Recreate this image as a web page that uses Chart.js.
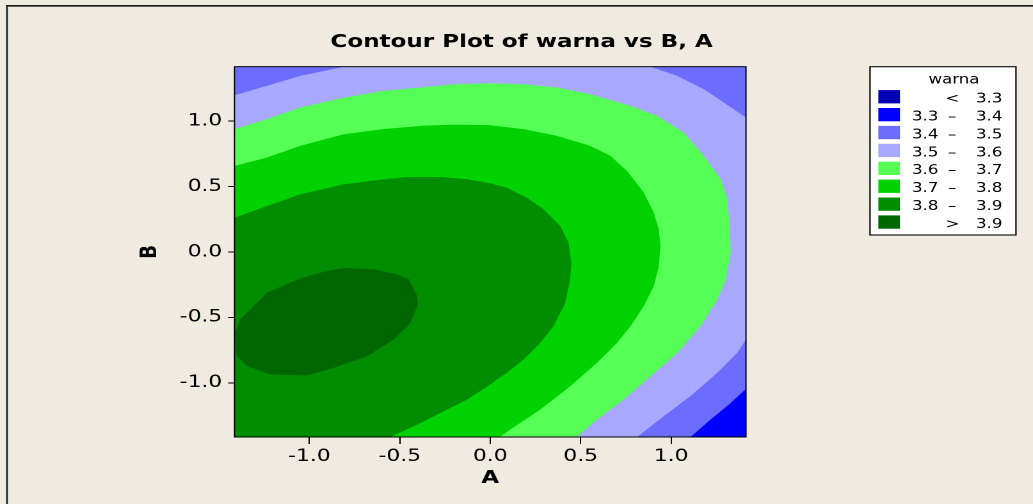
<!DOCTYPE html>
<html>
<head>
<meta charset="utf-8">
<title>Contour Plot of warna vs B, A</title>
<script src="https://cdn.jsdelivr.net/npm/chart.js@4.4.1/dist/chart.umd.min.js"></script>
<style>
  html, body { margin: 0; padding: 0; background: #efebe1; overflow: hidden; }
  /* the Minitab export is stretched sideways, so the chart is drawn narrow and stretched the same way */
  #wrap { position: relative; width: 807px; height: 504px; transform: scaleX(1.28); transform-origin: 0 0; }
</style>
</head>
<body>
<div id="wrap"><canvas id="contour"></canvas></div>
<script>
/* axis range of the design (alpha = 1.414) and the tick labels */
const axisMin = -1.414;
const axisMax = 1.414;
const tickValues = [-1.0, -0.5, 0.0, 0.5, 1.0];

/* legend bands: lower limit, upper limit, colour */
const bandLow = [null, 3.3, 3.4, 3.5, 3.6, 3.7, 3.8, 3.9];
const bandHigh = [3.3, 3.4, 3.5, 3.6, 3.7, 3.8, 3.9, null];
const bandColors = ['#0000b4', '#0000ff', '#6c6cff', '#a8a8ff', '#55ff55', '#00d200', '#008e00', '#006600'];

/* contour lines, [A, B] */
// 3.4: bottom edge -> right edge
const line34 = [[1.107, -1.414], [1.218, -1.281], [1.329, -1.154], [1.414, -1.046]];
// 3.5: three pieces
const line35TopLeft = [[-1.414, 1.196], [-1.236, 1.268], [-1.050, 1.344], [-0.810, 1.414]];
const line35TopRight = [[0.886, 1.414], [1.034, 1.344], [1.182, 1.242], [1.292, 1.140], [1.414, 1.025]];
const line35Right = [[0.812, -1.414], [0.960, -1.255], [1.107, -1.102], [1.255, -0.924], [1.366, -0.771], [1.414, -0.669]];
// 3.6, 3.7, 3.8: left edge -> bottom edge
const line36 = [[-1.414, 0.937], [-1.236, 1.013], [-1.050, 1.102], [-0.810, 1.178], [-0.589, 1.229], [-0.385, 1.255],
  [-0.200, 1.280], [0.0, 1.288], [0.184, 1.280], [0.368, 1.255], [0.553, 1.204], [0.775, 1.115], [0.922, 1.038],
  [1.070, 0.911], [1.181, 0.732], [1.274, 0.554], [1.311, 0.401], [1.326, 0.146], [1.329, -0.007], [1.302, -0.211],
  [1.255, -0.364], [1.163, -0.568], [1.034, -0.772], [0.886, -0.950], [0.738, -1.128], [0.590, -1.281], [0.479, -1.414]];
const line37 = [[-1.414, 0.656], [-1.236, 0.720], [-1.050, 0.809], [-0.810, 0.898], [-0.589, 0.937], [-0.385, 0.962],
  [-0.200, 0.972], [0.0, 0.967], [0.184, 0.937], [0.368, 0.886], [0.553, 0.809], [0.664, 0.733], [0.756, 0.618],
  [0.849, 0.452], [0.904, 0.299], [0.932, 0.172], [0.941, 0.044], [0.932, -0.109], [0.904, -0.262], [0.849, -0.414],
  [0.775, -0.568], [0.701, -0.695], [0.590, -0.848], [0.442, -1.026], [0.276, -1.205], [0.110, -1.358], [0.054, -1.414]];
const line38 = [[-1.414, 0.261], [-1.236, 0.350], [-1.050, 0.440], [-0.810, 0.516], [-0.589, 0.554], [-0.459, 0.572],
  [-0.274, 0.572], [-0.127, 0.554], [0.0, 0.524], [0.091, 0.490], [0.202, 0.414], [0.295, 0.325], [0.387, 0.197],
  [0.433, 0.070], [0.448, -0.083], [0.442, -0.210], [0.415, -0.389], [0.350, -0.567], [0.276, -0.695], [0.184, -0.822],
  [0.091, -0.924], [0.0, -1.013], [-0.127, -1.128], [-0.238, -1.204], [-0.385, -1.307], [-0.552, -1.414]];
// 3.9: closed loop
const line39 = [[-0.810, -0.121], [-0.644, -0.134], [-0.515, -0.172], [-0.450, -0.210], [-0.404, -0.338], [-0.400, -0.401],
  [-0.441, -0.542], [-0.533, -0.669], [-0.681, -0.797], [-0.866, -0.886], [-1.014, -0.944], [-1.217, -0.937],
  [-1.346, -0.873], [-1.402, -0.797], [-1.411, -0.618], [-1.383, -0.516], [-1.236, -0.313], [-1.088, -0.223], [-0.959, -0.164]];

/* build the filled regions (z above each level); corners sit outside the axes and get clipped */
const L = 1.6;
const first = a => a[0];
const last = a => a[a.length - 1];
const rev = a => a.slice().reverse();
const edgeRegion = line => [[-L, first(line)[1]], ...line, [last(line)[0], -L], [-L, -L]];

const regions = [
  [[-L, -L], [L, -L], [L, L], [-L, L]],
  [[first(line34)[0], -L], ...line34, [L, last(line34)[1]], [L, L], [-L, L], [-L, -L]],
  [[-L, -L], [first(line35Right)[0], -L], ...line35Right, [L, last(line35Right)[1]],
    [L, last(line35TopRight)[1]], ...rev(line35TopRight), [first(line35TopRight)[0], L],
    [last(line35TopLeft)[0], L], ...rev(line35TopLeft), [-L, first(line35TopLeft)[1]]],
  edgeRegion(line36),
  edgeRegion(line37),
  edgeRegion(line38),
  line39
];

const datasets = regions.map((poly, k) => ({
  data: poly.map(p => ({x: p[0], y: p[1]})),
  showLine: true,
  fill: 'shape',
  backgroundColor: bandColors[k + 1],
  borderWidth: 0,
  pointRadius: 0,
  order: regions.length - k   // outer bands underneath
}));

const fmt = v => Number(v).toFixed(1);

/* paper colour, figure edge lines and the frame round the plot */
const paperPlugin = {
  id: 'paper',
  beforeDraw(chart) {
    const {ctx, width, height} = chart;
    ctx.save();
    ctx.fillStyle = '#efebe1';
    ctx.fillRect(0, 0, width, height);
    ctx.fillStyle = '#1e1e1e';
    ctx.fillRect(4.8, 5, 1.3, height);
    ctx.fillRect(4.8, 5, width, 1.7);
    ctx.restore();
  },
  afterDraw(chart) {
    const {ctx, chartArea: a} = chart;
    ctx.save();
    ctx.strokeStyle = '#000';
    ctx.lineWidth = 1;
    ctx.strokeRect(a.left, a.top, a.right - a.left, a.bottom - a.top);
    ctx.restore();
  }
};

/* Minitab style band legend */
const legendPlugin = {
  id: 'bandLegend',
  afterDraw(chart) {
    const ctx = chart.ctx;
    const left = chart.chartArea.right + 96.9;
    const top = chart.chartArea.top;
    ctx.save();
    ctx.fillStyle = '#ffffff';
    ctx.fillRect(left, top, 114, 168.3);
    ctx.strokeStyle = '#1a1a1a';
    ctx.lineWidth = 1.2;
    ctx.strokeRect(left, top, 114, 168.3);

    ctx.fillStyle = '#000';
    ctx.font = "13px 'DejaVu Sans', Verdana, sans-serif";
    ctx.textBaseline = 'alphabetic';
    ctx.textAlign = 'center';
    ctx.fillText('warna', left + 65.6, top + 16.6);

    bandColors.forEach((color, i) => {
      const base = top + 35.9 + 17.9 * i;
      ctx.fillStyle = color;
      ctx.fillRect(left + 6.5, base - 12.5, 16.9, 13.3);
      ctx.fillStyle = '#000';
      ctx.textAlign = 'center';
      if (bandLow[i] === null) {
        ctx.fillText('<', left + 64.4, base);
      } else if (bandHigh[i] === null) {
        ctx.fillText('>', left + 64.4, base);
      } else {
        ctx.fillText('\u2013', left + 64.2, base);
      }
      if (bandLow[i] !== null && bandHigh[i] !== null) {
        ctx.textAlign = 'left';
        ctx.fillText(fmt(bandLow[i]), left + 32.8, base);
      }
      ctx.textAlign = 'left';
      ctx.fillText(fmt(bandHigh[i] !== null ? bandHigh[i] : bandLow[i]), left + 82.8, base);
    });
    ctx.restore();
  }
};

Chart.defaults.font.family = "'DejaVu Sans', Verdana, sans-serif";
Chart.defaults.color = '#000';

const tickFont = {size: 17};
const titleFont = {size: 18, weight: 'bold'};

new Chart(document.getElementById('contour'), {
  type: 'scatter',
  data: {datasets},
  options: {
    responsive: true,
    maintainAspectRatio: false,
    devicePixelRatio: 2,
    animation: false,
    events: [],
    layout: {padding: {left: 8, right: 0, top: 0, bottom: 0}},
    plugins: {
      legend: {display: false},
      tooltip: {enabled: false},
      title: {
        display: true,
        text: 'Contour Plot of warna vs B, A',
        font: titleFont,
        color: '#000',
        padding: {top: 31.7, bottom: 13.4}
      }
    },
    scales: {
      x: {
        type: 'linear',
        min: axisMin,
        max: axisMax,
        afterBuildTicks: s => { s.ticks = tickValues.map(v => ({value: v})); },
        afterFit: s => { s.height = 67; },
        border: {display: false},
        grid: {drawOnChartArea: false, drawTicks: true, tickLength: 7, color: '#000'},
        ticks: {font: tickFont, padding: 2.5, maxRotation: 0, autoSkip: false, callback: fmt},
        title: {display: true, text: 'A', font: titleFont, padding: {top: 0, bottom: 14.7}}
      },
      y: {
        type: 'linear',
        min: axisMin,
        max: axisMax,
        afterBuildTicks: s => { s.ticks = tickValues.map(v => ({value: v})); },
        afterFit: s => { s.width = 175.2; },
        border: {display: false},
        grid: {drawOnChartArea: false, drawTicks: true, tickLength: 5, color: '#000'},
        ticks: {font: tickFont, padding: 4.6, autoSkip: false, callback: fmt},
        title: {display: true, text: 'B', font: titleFont, padding: {top: 98.4, bottom: 0}}
      },
      // empty right-hand axis that keeps room for the band legend
      yr: {
        type: 'linear',
        position: 'right',
        display: true,
        min: 0,
        max: 1,
        afterFit: s => { s.width = 224.2; },
        border: {display: false},
        grid: {display: false},
        ticks: {display: false}
      }
    }
  },
  plugins: [paperPlugin, legendPlugin]
});
</script>
</body>
</html>
